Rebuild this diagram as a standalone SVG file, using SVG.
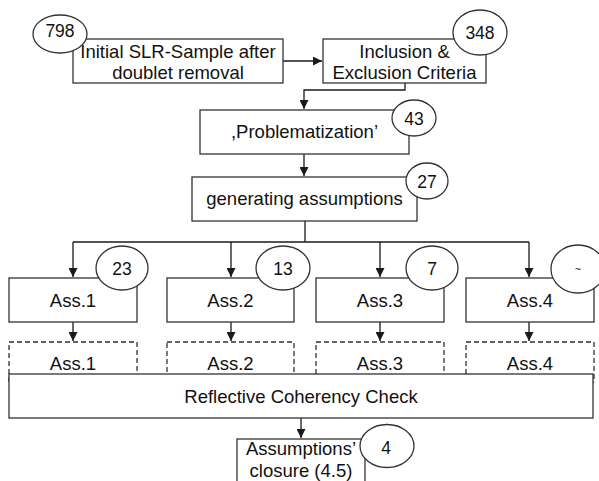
<svg xmlns="http://www.w3.org/2000/svg" width="599" height="481" viewBox="0 0 599 481">
<defs>
<marker id="arr" viewBox="0 0 10 10" refX="10" refY="5" markerWidth="9" markerHeight="9" markerUnits="userSpaceOnUse" orient="auto">
<path d="M0,0 L10,5 L0,10 Z" fill="#1a1a1a"/>
</marker>
<style>
rect, ellipse { fill: #fff; stroke: #333; stroke-width: 1.3; }
rect.bg { fill: #fff; stroke: none; }
.dash { fill: none; stroke-dasharray: 5 3; }
.c { fill: none; stroke: #1a1a1a; stroke-width: 1.3; marker-end: url(#arr); }
.cl { fill: none; stroke: #1a1a1a; stroke-width: 1.3; }
text { font-family: "Liberation Sans", Arial, sans-serif; font-size: 18.5px; fill: #111; text-anchor: middle; }
.n { font-size: 17.5px; }
</style>
</defs>
<rect class="bg" width="599" height="481"/>
<g id="connectors">
<line class="c" x1="283" y1="61" x2="322" y2="61"/>
<polyline class="c" points="405,83 405,90 304,90 304,109"/>
<line class="c" x1="304" y1="154" x2="304" y2="176"/>
<polyline class="cl" points="305,221 305,242"/>
<line class="cl" x1="73" y1="242" x2="529" y2="242"/>
<line class="c" x1="73" y1="242" x2="73" y2="277"/>
<line class="c" x1="231" y1="242" x2="231" y2="277"/>
<line class="c" x1="380" y1="242" x2="380" y2="277"/>
<line class="c" x1="529" y1="242" x2="529" y2="277"/>
<line class="c" x1="73" y1="322" x2="73" y2="341"/>
<line class="c" x1="231" y1="322" x2="231" y2="341"/>
<line class="c" x1="380" y1="322" x2="380" y2="341"/>
<line class="c" x1="529" y1="322" x2="529" y2="341"/>
<line class="c" x1="301" y1="418" x2="301" y2="438"/>
</g>
<g id="initial">
<rect x="73" y="39" width="210" height="44"/>
<text x="178" y="58">Initial SLR-Sample after</text>
<text x="178" y="79">doublet removal</text>
</g>
<g id="n798"><ellipse cx="60" cy="34" rx="27" ry="19"/><text class="n" x="60" y="37">798</text></g>
<g id="inclusion">
<rect x="323" y="39" width="163" height="44"/>
<text x="404.5" y="58">Inclusion &amp;</text>
<text x="404.5" y="79">Exclusion Criteria</text>
</g>
<g id="n348"><ellipse cx="480" cy="32.5" rx="27" ry="22.5"/><text class="n" x="480" y="39">348</text></g>
<g id="problematization">
<rect x="200" y="110" width="209" height="44"/>
<text x="304.5" y="138">,Problematization’</text>
</g>
<g id="n43"><ellipse cx="414" cy="118" rx="22" ry="18"/><text class="n" x="414" y="125">43</text></g>
<g id="generating">
<rect x="192" y="177" width="225" height="44"/>
<text x="304.5" y="205">generating assumptions</text>
</g>
<g id="n27"><ellipse cx="427" cy="181" rx="21" ry="18"/><text class="n" x="427" y="188">27</text></g>
<g id="ass1"><rect x="9" y="278" width="128" height="44"/><text x="73" y="307">Ass.1</text></g>
<g id="ass2"><rect x="167" y="278" width="127" height="44"/><text x="230.5" y="307">Ass.2</text></g>
<g id="ass3"><rect x="316" y="278" width="128" height="44"/><text x="380" y="307">Ass.3</text></g>
<g id="ass4"><rect x="466" y="278" width="128" height="44"/><text x="530" y="307">Ass.4</text></g>
<g id="n23"><ellipse cx="122" cy="268" rx="26" ry="22"/><text class="n" x="122" y="275">23</text></g>
<g id="n13"><ellipse cx="283" cy="268" rx="27" ry="22"/><text class="n" x="283" y="275">13</text></g>
<g id="n7"><ellipse cx="432" cy="268" rx="26" ry="22"/><text class="n" x="432" y="275">7</text></g>
<g id="nq"><ellipse cx="578" cy="269" rx="27" ry="24"/><text x="578" y="273" style="font-size:11px">~</text></g>
<g id="ass1b"><rect class="dash" x="9" y="342" width="128" height="40"/><text x="73" y="370">Ass.1</text></g>
<g id="ass2b"><rect class="dash" x="167" y="342" width="127" height="40"/><text x="230.5" y="370">Ass.2</text></g>
<g id="ass3b"><rect class="dash" x="316" y="342" width="128" height="40"/><text x="380" y="370">Ass.3</text></g>
<g id="ass4b"><rect class="dash" x="466" y="342" width="128" height="40"/><text x="530" y="370">Ass.4</text></g>
<g id="reflective">
<rect x="9" y="374" width="584" height="44"/>
<text x="301" y="403">Reflective Coherency Check</text>
</g>
<g id="closure">
<rect x="237" y="439" width="128" height="52"/>
<text x="301" y="455">Assumptions’</text>
<text x="301" y="477">closure (4.5)</text>
</g>
<g id="n4"><ellipse cx="387" cy="446" rx="27" ry="21.5"/><text class="n" x="386" y="454">4</text></g>
</svg>
